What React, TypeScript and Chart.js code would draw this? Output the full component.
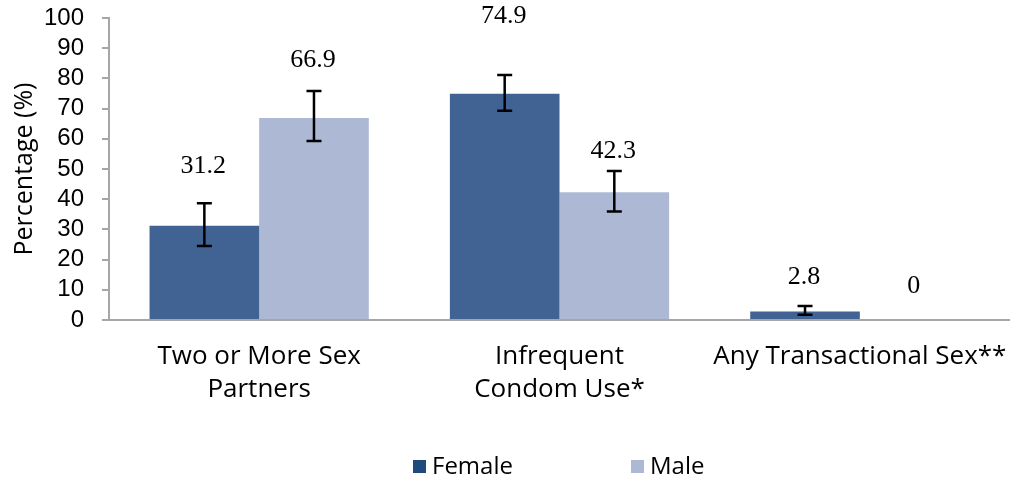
import React, { useEffect, useRef } from "react";
import { Chart, registerables } from "chart.js";

Chart.register(...registerables);

const categories: (string | string[])[] = [
  ["Two or More Sex", "Partners"],
  ["Infrequent", "Condom Use*"],
  "Any Transactional Sex**",
];
const femaleValues = [31.2, 74.9, 2.8];
const maleValues = [66.9, 42.3, 0];
const femaleLow = [24.5, 69.3, 1.7];
const femaleHigh = [38.7, 81.1, 4.6];
const maleLow: (number | null)[] = [59.3, 35.9, null];
const maleHigh: (number | null)[] = [75.8, 49.3, null];
const yTicks = [0, 10, 20, 30, 40, 50, 60, 70, 80, 90, 100];

// label lift above error bar (px) — styling only
const femaleLabelLift = [37, 59, 29];
const maleLabelLift = [31, 20, 34];

const FEMALE = "#416394";
const MALE = "#ADB8D4";
const FEMALE_LEGEND = "#1F4A7C";

const errorBarPlugin = {
  id: "errorBars",
  afterDatasetsDraw(chart: any) {
    const ctx = chart.ctx;
    const y = chart.scales.y;
    const sets = [
      { low: femaleLow, high: femaleHigh, vals: femaleValues, lift: femaleLabelLift },
      { low: maleLow, high: maleHigh, vals: maleValues, lift: maleLabelLift },
    ];
    sets.forEach((s, di) => {
      const meta = chart.getDatasetMeta(di);
      meta.data.forEach((bar: any, i: number) => {
        const x = bar.x;
        let topPx = y.getPixelForValue(s.vals[i]);
        const lo = s.low[i];
        const hi = s.high[i];
        if (lo != null && hi != null) {
          const yl = y.getPixelForValue(lo);
          const yh = y.getPixelForValue(hi);
          ctx.save();
          ctx.strokeStyle = "#000";
          ctx.lineWidth = 2.5;
          ctx.beginPath();
          ctx.moveTo(x, yl);
          ctx.lineTo(x, yh);
          ctx.moveTo(x - 7.5, yl);
          ctx.lineTo(x + 7.5, yl);
          ctx.moveTo(x - 7.5, yh);
          ctx.lineTo(x + 7.5, yh);
          ctx.stroke();
          ctx.restore();
          topPx = yh;
        }
        ctx.save();
        ctx.fillStyle = "#000";
        ctx.font = "26px 'Liberation Serif', serif";
        ctx.textAlign = "center";
        ctx.textBaseline = "middle";
        ctx.fillText(String(s.vals[i]), x - 1, topPx - s.lift[i]);
        ctx.restore();
      });
    });
  },
};

const legendPlugin = {
  id: "customLegend",
  afterDraw(chart: any) {
    const ctx = chart.ctx;
    const items = [
      { label: chart.data.datasets[0].label, color: FEMALE_LEGEND, x: 413 },
      { label: chart.data.datasets[1].label, color: MALE, x: 631 },
    ];
    ctx.save();
    items.forEach((it) => {
      ctx.fillStyle = it.color;
      ctx.fillRect(it.x, 460, 13, 13);
      ctx.fillStyle = "#000";
      ctx.font = "24px 'Open Sans', sans-serif";
      ctx.textAlign = "left";
      ctx.textBaseline = "middle";
      ctx.fillText(it.label, it.x + 19, 467);
    });
    ctx.restore();
  },
};

export default function App() {
  const ref = useRef<HTMLCanvasElement>(null);
  useEffect(() => {
    document.body.style.margin = "0";
    const chart = new Chart(ref.current!, {
      type: "bar",
      data: {
        labels: categories,
        datasets: [
          {
            label: "Female",
            data: femaleValues,
            backgroundColor: FEMALE,
            categoryPercentage: 0.73,
            barPercentage: 1,
          },
          {
            label: "Male",
            data: maleValues,
            backgroundColor: MALE,
            categoryPercentage: 0.73,
            barPercentage: 1,
          },
        ],
      },
      options: {
        animation: false,
        responsive: false,
        layout: { padding: { top: 18, right: 0, left: 10, bottom: 0 } },
        plugins: {
          legend: { display: false },
          tooltip: { enabled: false },
        },
        scales: {
          x: {
            grid: { display: false },
            border: { display: true, color: "#A6A6A6", width: 2 },
            ticks: {
              color: "#000",
              font: { family: "'Open Sans', sans-serif", size: 26, lineHeight: 1.27 },
              padding: 12,
              maxRotation: 0,
              autoSkip: false,
            },
            afterFit(scale: any) {
              scale.height = 159;
              scale.paddingLeft = 0;
              scale.paddingRight = 0;
            },
          },
          y: {
            min: 0,
            max: 100,
            afterBuildTicks(scale: any) {
              scale.ticks = yTicks.map((v) => ({ value: v }));
            },
            grid: {
              drawOnChartArea: false,
              tickLength: 7,
              color: "#A6A6A6",
              lineWidth: 2,
            },
            border: { display: true, color: "#A6A6A6", width: 2 },
            ticks: {
              color: "#000",
              font: { family: "'Liberation Sans', sans-serif", size: 24 },
              padding: 18,
              autoSkip: false,
            },
            title: {
              display: true,
              text: "Percentage (%)",
              color: "#000",
              font: { family: "'Open Sans', sans-serif", size: 25 },
              padding: 0,
            },
            afterFit(scale: any) {
              scale.width = 99;
              scale.paddingTop = 0;
              scale.paddingBottom = 0;
            },
          },
        },
      },
      plugins: [errorBarPlugin, legendPlugin],
    });
    return () => chart.destroy();
  }, []);
  return (
    <div style={{ position: "absolute", left: 0, top: 0, width: 1010, height: 479 }}>
      <canvas ref={ref} width={1010} height={479} />
    </div>
  );
}
